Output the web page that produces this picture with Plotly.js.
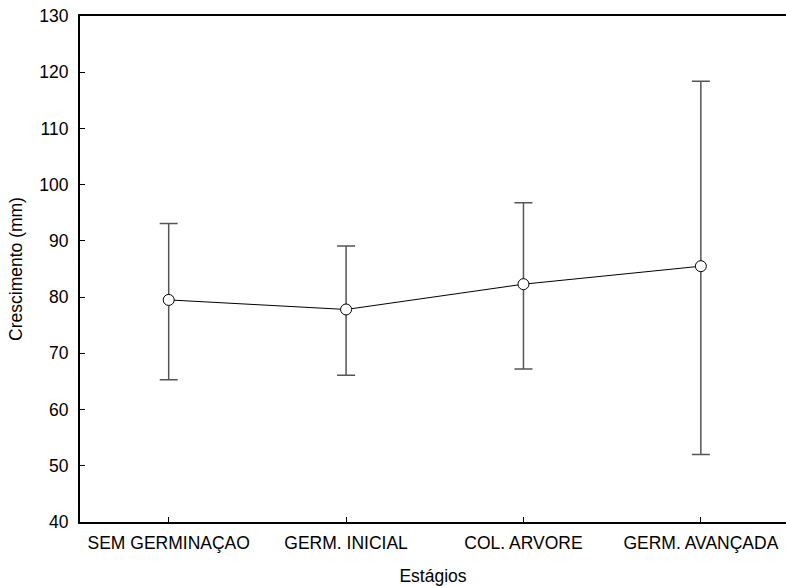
<!DOCTYPE html>
<html>
<head>
<meta charset="utf-8">
<script src="https://cdn.plot.ly/plotly-3.0.1.min.js"></script>
<style>html,body{margin:0;padding:0;background:#fff;}#chart{width:786px;height:586px;}</style>
</head>
<body>
<div id="chart"></div>
<script>
var categories = ["SEM GERMINAÇAO", "GERM. INICIAL", "COL. ARVORE", "GERM. AVANÇADA"];
var means = [79.5, 77.8, 82.3, 85.5];
var upper = [93.1, 89.1, 96.8, 118.4];
var lower = [65.3, 66.1, 67.2, 52.0];
var yTicks = [40, 50, 60, 70, 80, 90, 100, 110, 120, 130];

var plus = means.map(function(m, i){ return upper[i] - m; });
var minus = means.map(function(m, i){ return m - lower[i]; });

var trace = {
  x: categories,
  y: means,
  type: 'scatter',
  mode: 'lines+markers',
  line: {color: '#000', width: 1},
  marker: {symbol: 'circle', size: 11, color: '#fff', line: {color: '#000', width: 1}},
  error_y: {type: 'data', symmetric: false, array: plus, arrayminus: minus,
            color: '#555', thickness: 1.5, width: 9},
  hoverinfo: 'skip'
};

var fontFam = 'Arial, "Liberation Sans", sans-serif';
var fs = 17.5;
var layout = {
  width: 786, height: 586,
  margin: {l: 80, r: 0, t: 16, b: 64},
  paper_bgcolor: '#fff', plot_bgcolor: '#fff',
  showlegend: false,
  font: {family: fontFam, size: fs, color: '#000'},
  xaxis: {
    type: 'category',
    range: [-0.5, 3.48],
    showline: true, linecolor: '#000', linewidth: 2, mirror: true,
    ticks: 'inside', ticklen: 5, tickcolor: '#000', tickwidth: 1,
    showgrid: false, zeroline: false,
    tickfont: {family: fontFam, size: fs},
    ticklabelstandoff: 4,
    title: {text: 'Estágios', font: {family: fontFam, size: fs}, standoff: 19}
  },
  yaxis: {
    range: [40, 130],
    tickvals: yTicks,
    showline: true, linecolor: '#000', linewidth: 2,
    ticks: 'inside', ticklen: 5, tickcolor: '#000', tickwidth: 1,
    showgrid: false, zeroline: false,
    tickfont: {family: fontFam, size: fs},
    ticklabelstandoff: 6,
    title: {text: 'Crescimento (mm)', font: {family: fontFam, size: fs}, standoff: 12}
  }
};

Plotly.newPlot('chart', [trace], layout, {displayModeBar: false, staticPlot: true});
</script>
</body>
</html>
